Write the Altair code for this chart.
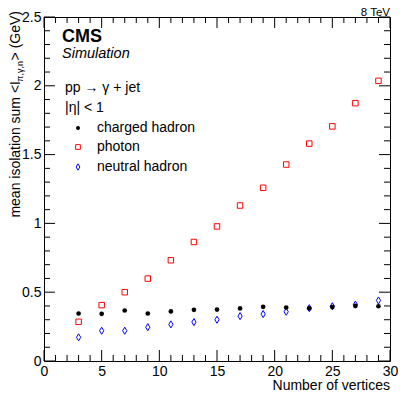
import altair as alt
import pandas as pd

# ---- data ----
vertices = [3, 5, 7, 9, 11, 13, 15, 17, 19, 21, 23, 25, 27, 29]
charged = [0.345, 0.343, 0.367, 0.345, 0.360, 0.372, 0.374, 0.382, 0.394, 0.389, 0.382, 0.392, 0.400, 0.398]
photon = [0.285, 0.406, 0.500, 0.599, 0.732, 0.865, 0.978, 1.130, 1.259, 1.428, 1.580, 1.705, 1.874, 2.036]
neutral = [0.172, 0.220, 0.220, 0.246, 0.266, 0.283, 0.300, 0.326, 0.341, 0.358, 0.384, 0.398, 0.410, 0.440]

x_major = [0, 5, 10, 15, 20, 25, 30]
x_minor = [1, 2, 3, 4, 6, 7, 8, 9, 11, 12, 13, 14, 16, 17, 18, 19, 21, 22, 23, 24, 26, 27, 28, 29]
y_major = [0, 0.5, 1, 1.5, 2, 2.5]
y_minor = [0.1, 0.2, 0.3, 0.4, 0.6, 0.7, 0.8, 0.9, 1.1, 1.2, 1.3, 1.4, 1.6, 1.7, 1.8, 1.9, 2.1, 2.2, 2.3, 2.4]

W, H = 346, 344
FONT = "Liberation Sans"

xs = alt.Scale(domain=[0, 30], nice=False, zero=False)
ys = alt.Scale(domain=[0, 2.5], nice=False, zero=False)

xaxis = alt.Axis(values=x_major, ticks=False, domain=False, grid=False, labelFontSize=14,
                 labelFont=FONT, labelColor="black", labelPadding=3, title=None, labelFlush=False)
yaxis = alt.Axis(values=y_major, ticks=False, domain=False, grid=False, labelFontSize=14,
                 labelFont=FONT, labelColor="black", labelPadding=3, title=None, format="~g")


def X(f):
    return alt.X(f, scale=xs, axis=xaxis, title=None)


def Y(f):
    return alt.Y(f, scale=ys, axis=yaxis, title=None)


df_c = pd.DataFrame({"n": vertices, "v": charged})
df_p = pd.DataFrame({"n": vertices, "v": photon})
df_n = pd.DataFrame({"n": vertices, "v": neutral})

diamond = "M0,-1L0.6,0L0,1L-0.6,0Z"

charged_layer = alt.Chart(df_c).mark_circle(size=22, color="black", opacity=1).encode(
    x=X("n:Q"), y=Y("v:Q"))
photon_layer = alt.Chart(df_p).mark_point(shape="square", filled=False, color="#ff0000",
                                          strokeWidth=1, size=30, opacity=1).encode(
    x=X("n:Q"), y=Y("v:Q"))
neutral_layer = alt.Chart(df_n).mark_point(shape=diamond, filled=False, color="#0000ff",
                                           strokeWidth=1, size=50, opacity=1).encode(
    x=X("n:Q"), y=Y("v:Q"))


# ---- inward ticks on all four sides ----
def xticks(vals, length):
    d = pd.DataFrame({"n": vals})
    bot = alt.Chart(d).mark_rule(color="black", strokeWidth=1).encode(
        x=X("n:Q"), y=alt.value(H), y2=alt.value(H - length))
    top = alt.Chart(d).mark_rule(color="black", strokeWidth=1).encode(
        x=X("n:Q"), y=alt.value(0), y2=alt.value(length))
    return [bot, top]


def yticks(vals, length):
    d = pd.DataFrame({"v": vals})
    left = alt.Chart(d).mark_rule(color="black", strokeWidth=1).encode(
        y=Y("v:Q"), x=alt.value(0), x2=alt.value(length))
    right = alt.Chart(d).mark_rule(color="black", strokeWidth=1).encode(
        y=Y("v:Q"), x=alt.value(W), x2=alt.value(W - length))
    return [left, right]


tick_layers = xticks(x_major, 11) + xticks(x_minor, 6) + yticks(y_major, 11) + yticks(y_minor, 6)

one = alt.Data(values=[{}])


def txt(s, x, y, size=14, align="left", weight="normal", style="normal", angle=0):
    return alt.Chart(one).mark_text(text=s, align=align, baseline="alphabetic", fontSize=size, font=FONT,
                                    fontWeight=weight, fontStyle=style, angle=angle, color="black").encode(
        x=alt.value(x), y=alt.value(y))


texts = [
    txt("8 TeV", W, -1, size=11.5, align="right"),
    txt("CMS", 18, 25, size=18, weight="bold"),
    txt("Simulation", 18, 41, size=14.5, style="italic"),
    txt("pp \u2192 \u03b3 + jet", 21, 75),
    txt("|\u03b7| < 1", 21, 95),
    txt("charged hadron", 53, 115),
    txt("photon", 53, 134),
    txt("neutral hadron", 53, 154),
    txt("Number of vertices", W, 373, align="right"),
    # y title: mean isolation sum <I_{pi,gamma,n}> (GeV)
    txt("> (GeV)", -24, -6, align="right", angle=270),
    txt("\u03c0,\u03b3,n", -21, 44, size=9, align="right", angle=270),
    txt("mean isolation sum <I", -24, 64, align="right", angle=270),
]

leg_c = alt.Chart(one).mark_circle(size=16, color="black", opacity=1).encode(
    x=alt.value(34), y=alt.value(111))
leg_p = alt.Chart(one).mark_point(shape="square", filled=False, color="#ff0000", strokeWidth=1,
                                  size=22, opacity=1).encode(x=alt.value(34), y=alt.value(130))
leg_n = alt.Chart(one).mark_point(shape=diamond, filled=False, color="#0000ff", strokeWidth=1,
                                  size=40, opacity=1).encode(x=alt.value(34), y=alt.value(150))

chart = alt.layer(
    *tick_layers, photon_layer, neutral_layer, charged_layer,
    leg_c, leg_p, leg_n, *texts
).properties(
    width=W, height=H,
    autosize=alt.AutoSizeParams(type="none"),
    padding={"left": 36, "top": 9, "right": 9, "bottom": 32},
    background="white",
).configure_view(stroke="black", strokeWidth=1)

chart.save("out.html", embed_options={"renderer": "svg", "actions": False})
